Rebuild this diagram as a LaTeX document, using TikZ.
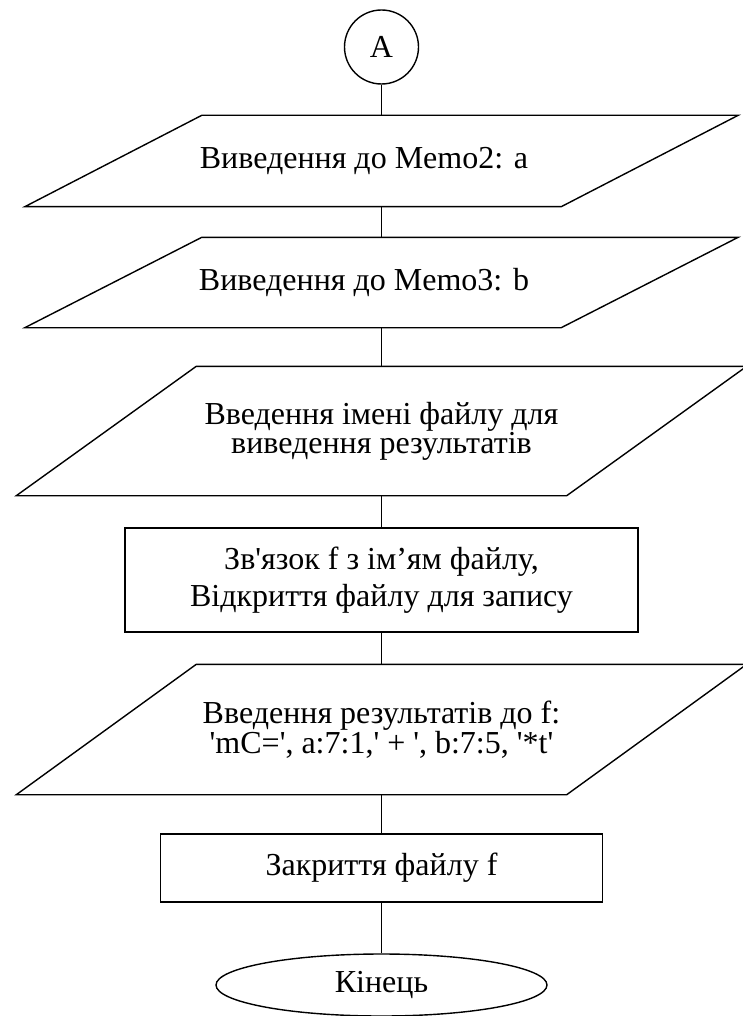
\documentclass[tikz,border=0pt]{standalone}
\usepackage{fontspec}
\setmainfont{Liberation Serif}
\usetikzlibrary{calc,shapes.geometric}

% straight single quote (no curly substitution)
\newcommand\sq{\textquotesingle}

% Slanted input/output box drawn round a (plain) named node:
% #1 = node name, #2 = horizontal slant offset of the top/bottom edges
\newcommand\drawIO[2]{%
  \draw ($(#1.north west)+(#2,0)$) -- ($(#1.north east)+(#2,0)$)
     -- ($(#1.south east)-(#2,0)$) -- ($(#1.south west)-(#2,0)$) -- cycle;}

\begin{document}
\begin{tikzpicture}[x=1pt,y=-1pt,line width=1.4pt,
  every node/.style={font=\fontsize{32}{28}\selectfont,inner sep=0pt,align=center},
  iobox/.style n args={2}{minimum width=#1,minimum height=#2},
  procbox/.style n args={2}{draw,rectangle,minimum width=#1,minimum height=#2},
  conn/.style={draw,line width=1.4pt}]
\useasboundingbox (0,0) rectangle (743,1016);

% blocks
\node[circle,draw,minimum size=74] (A) at (381.5,47) {A};
\node[iobox={535}{90}] (p1) at (381.5,161) {\hspace*{-35pt}Виведення до Memo2: a};
\node[iobox={535}{89}] (p2) at (381.5,282.5) {\hspace*{-35pt}Виведення до Memo3: b};
\node[iobox={549}{128}] (p3) at (381.5,431) {Введення імені файлу для\\виведення результатів};
\node[procbox={513}{104},font=\fontsize{32}{37}\selectfont] (r1) at (381.5,580)
  {Зв\sq язок f з ім’ям файлу,\\Відкриття файлу для запису};
\node[iobox={549}{129}] (p4) at (381.5,729.5)
  {Введення результатів до f:\\\sq mC=\sq, a:7:1,\sq{} + \sq, b:7:5, \sq*t\sq};
\node[procbox={442}{68}] (r2) at (381.5,868) {Закриття файлу f};
\node[ellipse,draw,minimum width=331,minimum height=62] (E) at (381.5,985) {Кінець};

% slanted outlines of the I/O blocks
\drawIO{p1}{88.5}
\drawIO{p2}{88.5}
\drawIO{p3}{90}
\drawIO{p4}{90}

% flow lines
\draw[conn] (A) -- (p1);
\draw[conn] (p1) -- (p2);
\draw[conn] (p2) -- (p3);
\draw[conn] (p3) -- (r1);
\draw[conn] (r1) -- (p4);
\draw[conn] (p4) -- (r2);
\draw[conn] (r2) -- (E);
\end{tikzpicture}
\end{document}
